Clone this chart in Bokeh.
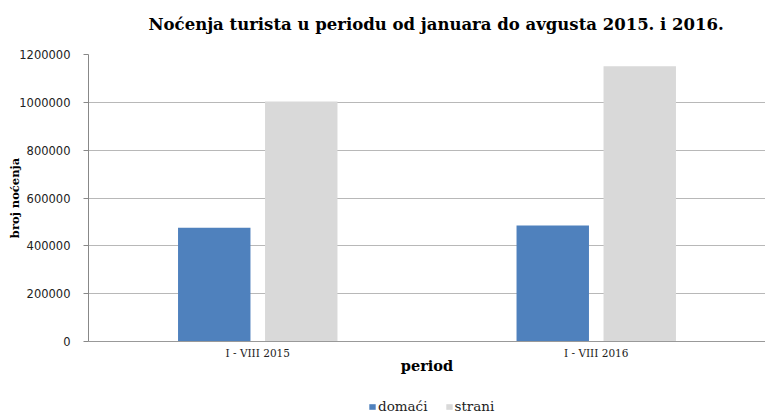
from bokeh.plotting import figure
from bokeh.layouts import column
from bokeh.models import ColumnDataSource, FactorRange, Legend, LegendItem, Title, BasicTickFormatter, FixedTicker, Range1d
from bokeh.transform import dodge
from bokeh.embed import file_html
from bokeh.resources import INLINE

periods = ["I - VIII 2015", "I - VIII 2016"]
domaci = [475500, 485000]
strani = [1003000, 1151000]
y_ticks = [0, 200000, 400000, 600000, 800000, 1000000, 1200000]
series_labels = ["domaći", "strani"]
series_colors = ["#4F81BD", "#D9D9D9"]

src = ColumnDataSource(dict(period=periods, domaci=domaci, strani=strani))

p = figure(x_range=FactorRange(factors=periods), y_range=(0, 1200000),
           width=765, height=393, output_backend="svg", toolbar_location=None,
           min_border_left=88, min_border_right=0, min_border_top=54, min_border_bottom=52)

p.title = Title(text="Noćenja turista u periodu od januara do avgusta 2015. i 2016.",
                text_font="DejaVu Serif", text_font_style="bold", text_font_size="16.5px",
                text_color="#000000", align="left", offset=60, standoff=0,
                vertical_align="bottom")
# blank spacer between the title and the plot area
p.add_layout(Title(text=" ", text_font_size="17px", standoff=0), "above")

p.vbar(x=dodge("period", -0.1285, range=p.x_range), top="domaci", width=0.214,
       source=src, fill_color=series_colors[0], line_color=None)
p.vbar(x=dodge("period", 0.1285, range=p.x_range), top="strani", width=0.214,
       source=src, fill_color=series_colors[1], line_color=None)

p.outline_line_color = None
p.background_fill_color = "white"

# y axis
p.yaxis.ticker = FixedTicker(ticks=y_ticks)
p.yaxis.formatter = BasicTickFormatter(use_scientific=False)
p.yaxis.minor_tick_line_color = None
p.yaxis.major_tick_out = 5
p.yaxis.major_tick_in = 0
p.yaxis.major_tick_line_color = "#888888"
p.yaxis.axis_line_color = "#888888"
p.yaxis.major_label_text_font = "DejaVu Sans"
p.yaxis.major_label_text_font_size = "11.5px"
p.yaxis.major_label_text_color = "#222222"
p.yaxis.major_label_standoff = 13
p.yaxis.axis_label = "broj noćenja"
p.yaxis.axis_label_text_font = "DejaVu Serif"
p.yaxis.axis_label_text_font_style = "bold"
p.yaxis.axis_label_text_font_size = "11.5px"
p.yaxis.axis_label_text_color = "#000000"
p.yaxis.axis_label_standoff = -6

# x axis
p.xaxis.axis_line_color = "#999999"
p.xaxis.major_tick_line_color = None
p.xaxis.minor_tick_line_color = None
p.xaxis.major_tick_out = 0
p.xaxis.major_label_standoff = 5
p.xaxis.major_label_text_font = "DejaVu Serif"
p.xaxis.major_label_text_font_size = "10.5px"
p.xaxis.major_label_text_color = "#222222"
p.xaxis.axis_label = "period"
p.xaxis.axis_label_text_font = "DejaVu Serif"
p.xaxis.axis_label_text_font_style = "bold"
p.xaxis.axis_label_text_font_size = "14.5px"
p.xaxis.axis_label_text_color = "#000000"
p.xaxis.axis_label_standoff = -5

p.xgrid.grid_line_color = None
p.ygrid.ticker = FixedTicker(ticks=y_ticks)
p.ygrid.grid_line_color = "#B8B8B8"
p.ygrid.grid_line_width = 1

# legend strip: a second figure with hidden copies of the bar renderers, used only for the legend
q = figure(x_range=p.x_range, y_range=Range1d(-2, -1), width=765, height=21,
           output_backend="svg", toolbar_location=None,
           x_axis_location=None, y_axis_location=None, min_border=0)
q.outline_line_color = None
q.grid.grid_line_color = None
l1 = q.vbar(x=dodge("period", -0.1285, range=q.x_range), top="domaci", width=0.214,
            source=src, fill_color=series_colors[0], line_color=None, visible=False)
l2 = q.vbar(x=dodge("period", 0.1285, range=q.x_range), top="strani", width=0.214,
            source=src, fill_color=series_colors[1], line_color=None, visible=False)

legend = Legend(items=[LegendItem(label=series_labels[0], renderers=[l1]),
                       LegendItem(label=series_labels[1], renderers=[l2])],
                orientation="horizontal", location=(280, 0),
                glyph_width=8, glyph_height=7, label_height=8,
                label_text_font="DejaVu Serif", label_text_font_size="13.5px",
                label_text_color="#222222", label_standoff=2, spacing=17,
                padding=0, margin=0, border_line_color=None, background_fill_alpha=0,
                inactive_fill_alpha=0)
q.add_layout(legend, "center")

layout = column(p, q, spacing=0)
open("out.html", "w").write(file_html(layout, INLINE))
